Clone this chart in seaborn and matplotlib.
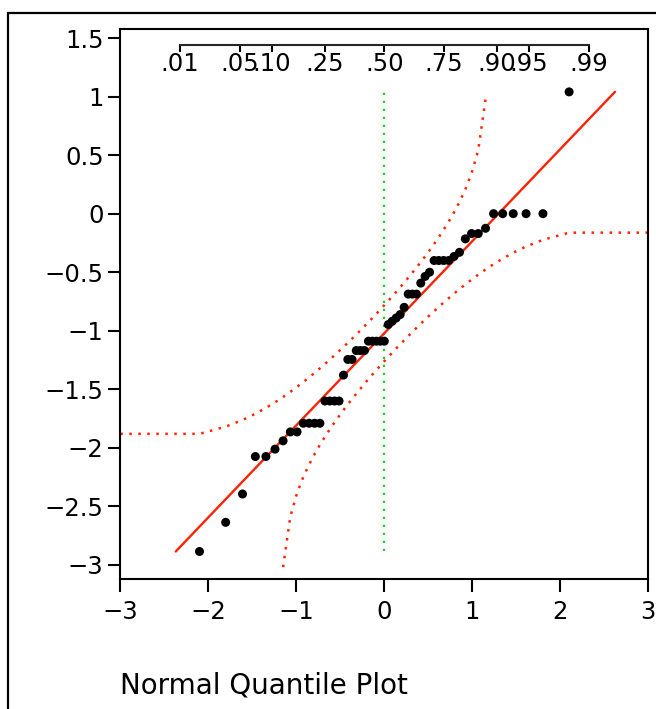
import numpy as np
import matplotlib
matplotlib.use("Agg")
import matplotlib.pyplot as plt
import seaborn as sns
from matplotlib.patches import Rectangle
from matplotlib.ticker import FuncFormatter
from statistics import NormalDist

values = [-2.885, -2.636, -2.394, -2.074, -2.074, -2.011, -1.94, -1.864, -1.864,
          -1.79, -1.79, -1.79, -1.79, -1.6, -1.6, -1.6, -1.6, -1.379,
          -1.245, -1.245, -1.169, -1.169, -1.169,
          -1.089, -1.089, -1.089, -1.089, -1.089,
          -0.947, -0.919, -0.891, -0.862, -0.8,
          -0.687, -0.687, -0.687, -0.593, -0.536, -0.5,
          -0.4, -0.4, -0.4, -0.4, -0.366, -0.33,
          -0.215, -0.17, -0.17, -0.125,
          0, 0, 0, 0, 0, 1.04]
prob_ticks = [.01, .05, .10, .25, .50, .75, .90, .95, .99]
prob_labels = ['.01', '.05', '.10', '.25', '.50', '.75', '.90', '.95', '.99']
x_ticks = [-3, -2, -1, 0, 1, 2, 3]
y_ticks = [1.5, 1, 0.5, 0, -0.5, -1, -1.5, -2, -2.5, -3]

sns.set_style("white")
plt.rcParams['font.family'] = ['DejaVu Sans']
plt.rcParams['text.color'] = 'black'
plt.rcParams['axes.labelcolor'] = 'black'

nd = NormalDist()
y = np.array(values)
n = len(y)
p = np.arange(1, n + 1) / (n + 1)
q = np.array([nd.inv_cdf(v) for v in p])
mu = y.mean()
sd = y.std(ddof=1)

# Lilliefors 5% bands
D = 0.886 / np.sqrt(n)
up_mask = p + D < 1
lo_mask = p - D > 0
up_y = mu + sd * np.array([nd.inv_cdf(v) for v in p[up_mask] + D])
lo_y = mu + sd * np.array([nd.inv_cdf(v) for v in p[lo_mask] - D])
up_x = np.concatenate([[x_ticks[0]], q[up_mask]])
up_y = np.concatenate([[up_y[0]], up_y])
lo_x = np.concatenate([q[lo_mask], [x_ticks[-1]]])
lo_y = np.concatenate([lo_y, [lo_y[-1]]])

W, H = 656, 709
fig = plt.figure(figsize=(W / 100, H / 100), dpi=100)
ax = fig.add_axes([120.3 / W, 1 - 579 / H, 528 / W, 550 / H])

red = '#ff2200'
dots = (0, (1, 2.6))

# fit line spans the data range
fx = np.array([(y.min() - mu) / sd, (y.max() - mu) / sd])
ax.plot(fx, mu + sd * fx, color=red, lw=1.7, zorder=3)
ax.plot(up_x, up_y, color=red, lw=1.8, ls=dots, zorder=2)
ax.plot(lo_x, lo_y, color=red, lw=1.8, ls=dots, zorder=2)
ax.vlines(0, y.min(), y.max(), colors='#1fcf1f', lw=1.6, linestyles=dots, zorder=2)

sns.scatterplot(x=q, y=y, color='black', s=42, edgecolor='none', ax=ax, zorder=4)

ax.set_xlim(-3, 3)
ax.set_ylim(-3.12, 1.577)
ax.set_xticks(x_ticks)
ax.set_yticks(y_ticks)
fmt = FuncFormatter(lambda v, _: f"{v:g}".replace('-', '\u2212'))
ax.xaxis.set_major_formatter(fmt)
ax.yaxis.set_major_formatter(fmt)
ax.tick_params(direction='out', length=9, width=1.5, labelsize=17.5, pad=3,
               colors='black', bottom=True, left=True)
ax.tick_params(axis='x', pad=6)
for s in ax.spines.values():
    s.set_linewidth(1.5)
    s.set_color('black')
ax.set_xlabel('Normal Quantile Plot', loc='left', fontsize=20, labelpad=34)

# probability scale drawn inside the frame
sec = ax.secondary_xaxis(0.971)
sec.set_alignment('bottom')
q_ticks = [nd.inv_cdf(v) for v in prob_ticks]
sec.set_xticks(q_ticks, labels=prob_labels)
sec.spines['bottom'].set_bounds(q_ticks[0], q_ticks[-1])
sec.spines['bottom'].set_linewidth(1.5)
sec.tick_params(direction='out', length=5, width=1.5, labelsize=17.5, pad=0,
                colors='black')

fig.add_artist(Rectangle((8 / W, -0.5), 2, 1.5 - 12.5 / H, transform=fig.transFigure,
                         fill=False, lw=1.6, ec='black'))

fig.savefig('out.png', dpi=100)
